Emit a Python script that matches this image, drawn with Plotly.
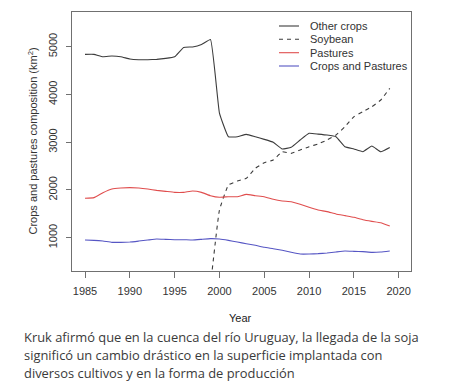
import plotly.graph_objects as go

years = list(range(1985, 2020))

other_crops = [4840, 4840, 4790, 4805, 4790, 4742, 4728, 4728, 4735, 4755,
               4790, 4985, 4995, 5045, 5150, 3610, 3115, 3115, 3165, 3115,
               3060, 2998, 2858, 2893, 3046, 3186, 3170, 3150, 3115, 2906,
               2858, 2801, 2920, 2800, 2890]

soy_years = list(range(1999, 2020))
soybean = [0, 1580, 2104, 2187, 2244, 2453, 2571, 2627, 2801, 2767, 2837,
           2906, 2962, 3046, 3150, 3325, 3534, 3639, 3743, 3884, 4129]

pastures = [1825, 1839, 1942, 2020, 2041, 2048, 2041, 2020, 1992, 1971,
            1950, 1950, 1978, 1950, 1880, 1846, 1859, 1859, 1908, 1880,
            1859, 1804, 1769, 1755, 1699, 1636, 1580, 1546, 1497, 1462,
            1427, 1377, 1343, 1315, 1245]

crops_pastures = [952, 945, 930, 903, 903, 910, 930, 952, 973, 966,
                  959, 959, 952, 966, 980, 973, 945, 910, 875, 841,
                  799, 770, 736, 694, 659, 659, 666, 680, 701, 721,
                  715, 708, 694, 701, 721]

x_ticks = [1985, 1990, 1995, 2000, 2005, 2010, 2015, 2020]
y_ticks = [1000, 2000, 3000, 4000, 5000]

series_names = ["Other crops", "Soybean", "Pastures", "Crops and Pastures"]
series_colors = ["#3c3c3c", "#3c3c3c", "#e04e4e", "#5656c4"]
series_dash = ["solid", "4px,4px", "solid", "solid"]
series_x = [years, soy_years, years, years]
series_y = [other_crops, soybean, pastures, crops_pastures]

caption_lines = ["Kruk afirmó que en la cuenca del río Uruguay, la llegada de la soja",
                 "significó un cambio drástico en la superficie implantada con",
                 "diversos cultivos y en la forma de producción"]

axis_font = dict(family="Liberation Sans, Arial, sans-serif", size=11, color="#333333")

fig = go.Figure()
for name, col, dash, xs, ys in zip(series_names, series_colors, series_dash, series_x, series_y):
    fig.add_trace(go.Scatter(x=xs, y=ys, mode="lines", name=name,
                             line=dict(color=col, width=1.1, dash=dash, shape="spline", smoothing=0.3),
                             showlegend=False))

# page body has an 8px margin: size the figure so it fits the 462x392 window
OFF = 8
W, H = 462 - OFF, 392 - OFF
L, T = 72 - OFF, 12 - OFF
R = W - (411 - OFF)
B = H - (271 - OFF)
pw, ph = W - L - R, H - T - B
def px(xp):
    return (xp - OFF - L) / pw
def py(yp):
    return 1 - (yp - OFF - T) / ph

shapes = []
annotations = []
row_y = [26, 39.3, 52.7, 66]
for name, col, dash, yy in zip(series_names, series_colors, series_dash, row_y):
    shapes.append(dict(type="line", xref="paper", yref="paper",
                       x0=px(279), x1=px(299), y0=py(yy), y1=py(yy),
                       line=dict(color=col, width=1.1, dash=dash)))
    annotations.append(dict(text=name, xref="paper", yref="paper", x=px(308), y=py(yy),
                            xanchor="left", yanchor="middle", showarrow=False,
                            font=axis_font))

annotations.append(dict(text="Crops and pastures composition (km<sup>2</sup>)",
                        xref="paper", yref="paper", x=px(32), y=0.5, textangle=-90,
                        xanchor="center", yanchor="middle", showarrow=False, font=axis_font))
annotations.append(dict(text="Year", xref="paper", yref="paper", x=px(240), y=py(318),
                        xanchor="center", yanchor="middle", showarrow=False,
                        font=dict(family="Liberation Sans, Arial, sans-serif", size=11, color="#222222")))
for line, yy in zip(caption_lines, [336.7, 355, 372.7]):
    annotations.append(dict(text=line, xref="paper", yref="paper", x=px(22), y=py(yy),
                            xanchor="left", yanchor="middle", align="left", showarrow=False,
                            font=dict(family="Open Sans, sans-serif", size=12.9, color="#3a3a3a")))

fig.update_layout(
    width=W, height=H,
    margin=dict(l=L, r=R, t=T, b=B, pad=0),
    paper_bgcolor="white", plot_bgcolor="white",
    shapes=shapes, annotations=annotations,
    showlegend=False,
    xaxis=dict(range=[1983.55, 2021.37], tickmode="array", tickvals=x_ticks,
               showgrid=False, zeroline=False, showline=True, mirror=True,
               linecolor="#707070", linewidth=1, ticks="outside", ticklen=6,
               tickcolor="#707070", tickfont=axis_font, ticklabelstandoff=4),
    yaxis=dict(range=[303, 5727], tickmode="array", tickvals=y_ticks,
               showgrid=False, zeroline=False, showline=True, mirror=True,
               linecolor="#707070", linewidth=1, ticks="outside", ticklen=5,
               tickcolor="#707070", tickfont=axis_font, tickangle=-90,
               ticklabelstandoff=5),
)

fig.write_html("out.html")
